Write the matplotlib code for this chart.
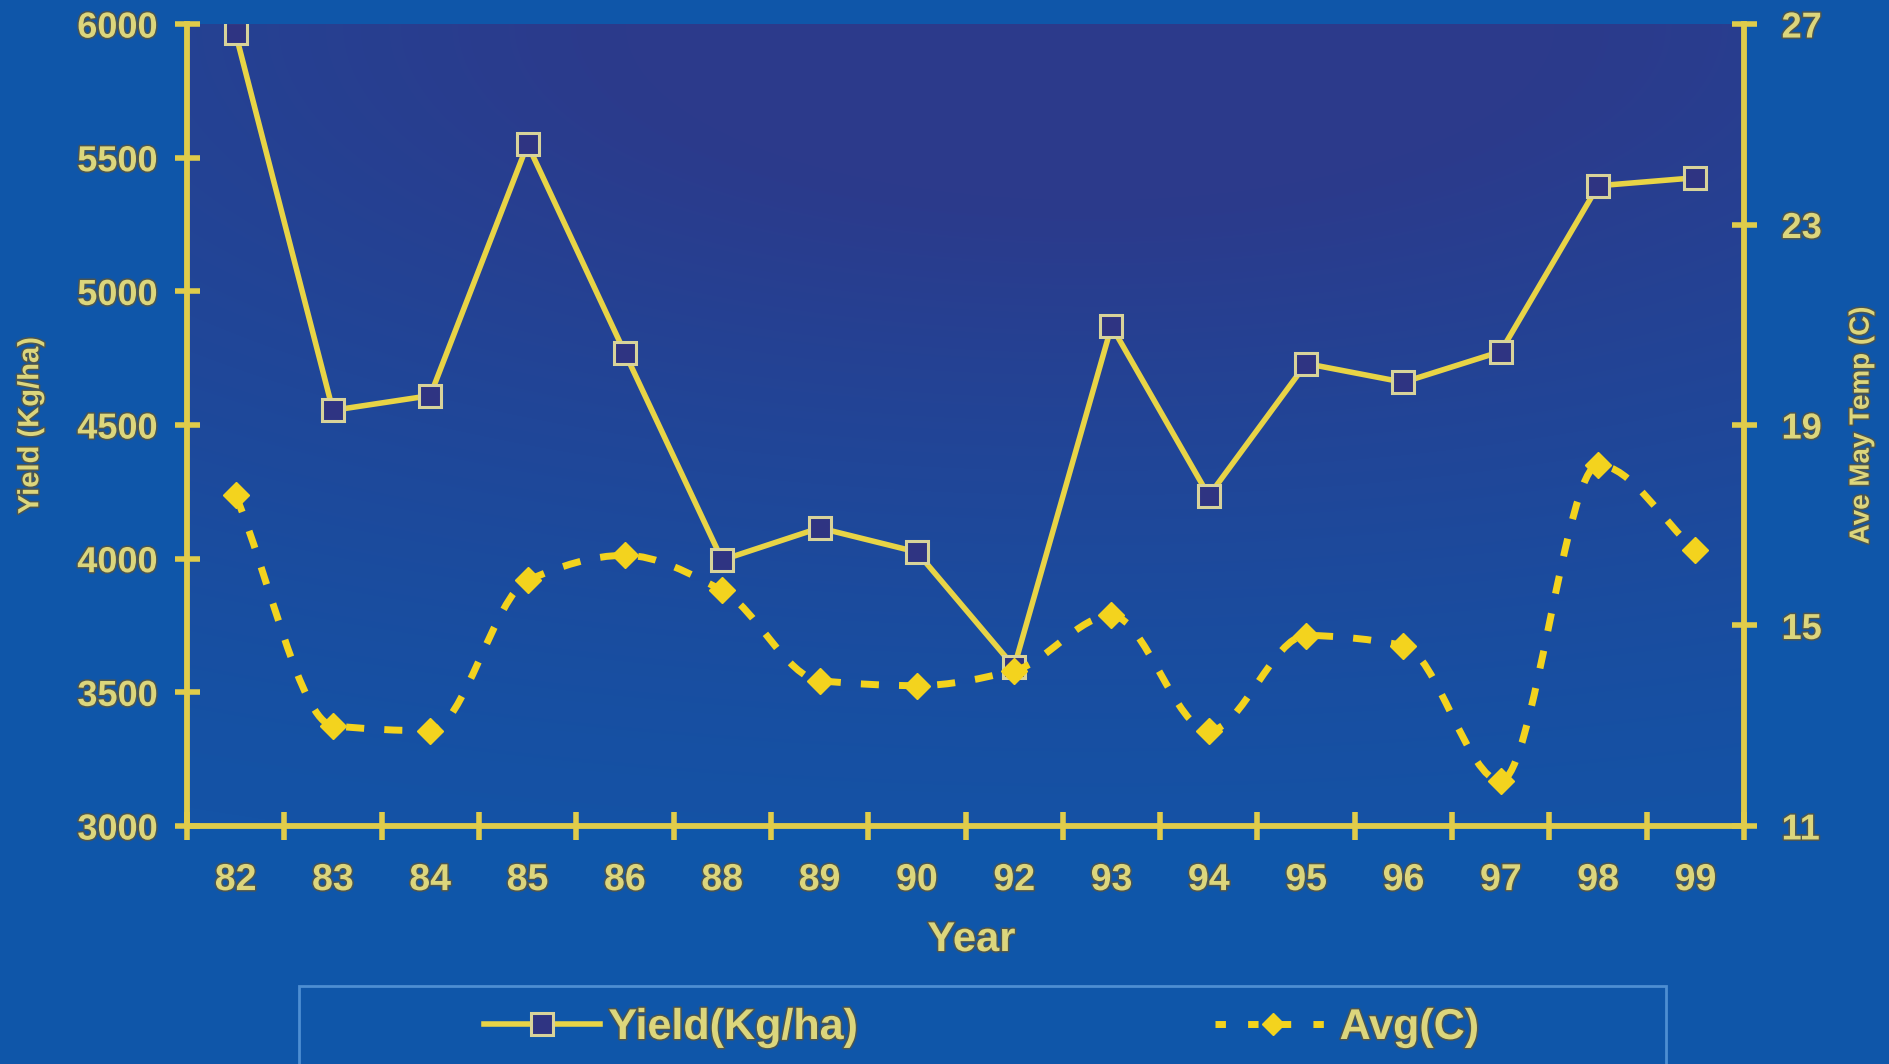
import numpy as np
import matplotlib
matplotlib.use("Agg")
import matplotlib.pyplot as plt
from matplotlib.path import Path
from matplotlib.patches import PathPatch, Rectangle
from matplotlib.colors import LinearSegmentedColormap
from matplotlib.lines import Line2D
import matplotlib.patheffects as pe

# ---- data ----
years = ["82", "83", "84", "85", "86", "88", "89", "90",
         "92", "93", "94", "95", "96", "97", "98", "99"]
yield_kg_ha = [5965, 4555, 4610, 5550, 4770, 3995, 4115, 4025,
               3595, 4870, 4235, 4730, 4660, 4775, 5395, 5425]
avg_may_temp = [17.6, 13.0, 12.9, 15.9, 16.4, 15.7, 13.9, 13.8,
                14.1, 15.2, 12.9, 14.8, 14.6, 11.9, 18.2, 16.5]
yield_ticks = [3000, 3500, 4000, 4500, 5000, 5500, 6000]
temp_ticks = [11, 15, 19, 23, 27]

# ---- style ----
BG = "#0f56a9"
LINE = "#e8d446"
DIAMOND = "#f3d31e"
TEXT = "#dcd67c"
SPINE = "#e0cc4a"
font = ["Liberation Sans", "DejaVu Sans"]
outline = [pe.withStroke(linewidth=2.2, foreground="#4a5552")]

plt.rcParams["font.family"] = font
plt.rcParams["font.weight"] = "bold"

fig = plt.figure(figsize=(18.9, 10.64), dpi=100, facecolor=BG)
ax = fig.add_axes([0.0989, 0.2237, 0.8239, 0.7537])
ax.set_facecolor("none")

x = np.arange(len(years))
ax.set_xlim(-0.5, len(years) - 0.5)
ax.set_ylim(3000, 6000)

# shaded plot area: navy-purple upper region fading to blue at the lower left
u = np.linspace(0, 1, 300)
v = np.linspace(0, 1, 200)
U, V = np.meshgrid(u, v)
d = np.sqrt(((U - 0.58) / 1.3) ** 2 + ((V - 1.0) / 0.95) ** 2)
w = np.clip(1.25 - d * 1.1, 0, 1) ** 1.3
cmap = LinearSegmentedColormap.from_list("plot_bg", ["#1453a6", "#2c3a8b"])
ax.imshow(w, cmap=cmap, vmin=0, vmax=1, origin="lower", aspect="auto",
          extent=(0, 1, 0, 1), transform=ax.transAxes, zorder=0,
          interpolation="bilinear")

# yield series
ax.plot(x, yield_kg_ha, color=LINE, lw=4.0, zorder=3, solid_joinstyle="round")
ax.plot(x, yield_kg_ha, linestyle="none", marker="s", markersize=16,
        markerfacecolor="#2f3482", markeredgecolor="#d8d39a",
        markeredgewidth=2.2, zorder=4)

# temperature series on the secondary axis: smooth monotone cubic through points
ax2 = ax.twinx()
ax2.set_ylim(11, 27)
ax2.set_xlim(-0.5, len(years) - 0.5)
xs = x.astype(float)
ys = np.asarray(avg_may_temp, dtype=float)
n = len(xs)
slopes = np.diff(ys) / np.diff(xs)
m = np.zeros(n)
m[0], m[-1] = slopes[0], slopes[-1]
for i in range(1, n - 1):
    a, b = slopes[i - 1], slopes[i]
    m[i] = 0.0 if a * b <= 0 else 2.0 / (1.0 / a + 1.0 / b)
verts = [(xs[0], ys[0])]
codes = [Path.MOVETO]
for i in range(n - 1):
    h = xs[i + 1] - xs[i]
    verts += [(xs[i] + h / 3, ys[i] + m[i] * h / 3),
              (xs[i + 1] - h / 3, ys[i + 1] - m[i + 1] * h / 3),
              (xs[i + 1], ys[i + 1])]
    codes += [Path.CURVE4] * 3
curve = PathPatch(Path(verts, codes), fill=False, edgecolor=DIAMOND, lw=5,
                  linestyle=(0, (2.6, 2.9)), capstyle="butt", zorder=3)
ax2.add_patch(curve)
ax2.plot(x, avg_may_temp, linestyle="none", marker="D", markersize=13,
         markerfacecolor=DIAMOND, markeredgecolor=DIAMOND, zorder=4)

# spines
for a in (ax, ax2):
    a.spines["top"].set_visible(False)
    for s in ("left", "right", "bottom"):
        a.spines[s].set_color(SPINE)
        a.spines[s].set_linewidth(4.2)
ax.spines["right"].set_visible(False)
ax2.spines["left"].set_visible(False)
ax2.spines["bottom"].set_visible(False)

# ticks
ax.set_yticks(yield_ticks)
ax.set_yticklabels([str(t) for t in yield_ticks])
ax.tick_params(axis="y", direction="inout", length=18, width=4, color=SPINE,
               pad=12, labelsize=26, labelcolor=TEXT)
ax.set_xticks(x)
ax.set_xticklabels(years)
ax.set_xticks(np.arange(-0.5, len(years)), minor=True)
ax.tick_params(axis="x", which="major", length=0, pad=26, labelsize=27,
               labelcolor=TEXT)
ax.tick_params(axis="x", which="minor", direction="inout", length=20,
               width=4, color=SPINE)
ax2.set_yticks(temp_ticks)
ax2.set_yticklabels([str(t) for t in temp_ticks])
ax2.tick_params(axis="y", direction="inout", length=18, width=4, color=SPINE,
                pad=18, labelsize=26, labelcolor=TEXT)
for lab in ax.get_xticklabels() + ax.get_yticklabels() + ax2.get_yticklabels():
    lab.set_fontweight("bold")
    lab.set_path_effects(outline)

# axis titles
fig.text(0.016, 0.60, "Yield (Kg/ha)", rotation=90, ha="center", va="center",
         fontsize=21, fontweight="bold", color=TEXT, path_effects=outline)
fig.text(0.985, 0.60, "Ave May Temp (C)", rotation=90, ha="center",
         va="center", fontsize=20, fontweight="bold", color=TEXT,
         path_effects=outline)
fig.text(0.514, 0.1165, "Year", ha="center", va="center", fontsize=30,
         fontweight="bold", color=TEXT, path_effects=outline)

# legend with an open-bottomed frame
fig.patches.append(Rectangle((299 / 1890, -0.05), (1666 - 299) / 1890,
                             0.05 + (1064 - 986) / 1064,
                             transform=fig.transFigure, fill=False,
                             edgecolor="#4d8ed2", lw=2, zorder=1))
handles = [
    Line2D([], [], color=LINE, lw=4.0, marker="s", markersize=16,
           markerfacecolor="#2f3482", markeredgecolor="#d8d39a",
           markeredgewidth=2.2),
    Line2D([], [], color=DIAMOND, lw=5, linestyle=(0, (1.5, 3.2)),
           marker="D", markersize=11, markerfacecolor=DIAMOND,
           markeredgecolor=DIAMOND),
]
leg = fig.legend(handles, ["Yield(Kg/ha)", "Avg(C)"], loc="center left",
                 bbox_to_anchor=(462 / 1890, 1 - 1028 / 1064), ncol=2,
                 frameon=False, borderpad=0, handlelength=2.7,
                 handletextpad=0.2, columnspacing=8.3,
                 prop={"family": font, "weight": "bold", "size": 31})
for t in leg.get_texts():
    t.set_color(TEXT)
    t.set_path_effects(outline)

fig.savefig("out.png", dpi=100, facecolor=BG)
